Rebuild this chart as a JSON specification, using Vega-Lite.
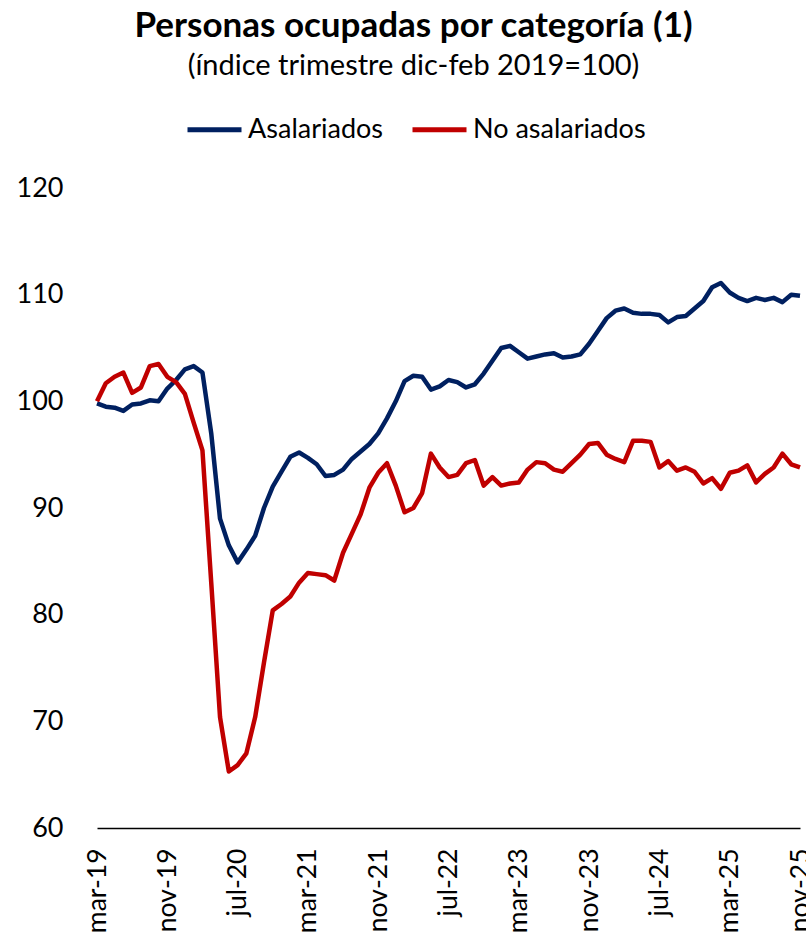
{
  "$schema": "https://vega.github.io/schema/vega-lite/v6.json",
  "width": 703,
  "height": 640,
  "autosize": {"type": "none"},
  "padding": {"left": 97, "top": 188, "right": 6, "bottom": 117},
  "background": "white",
  "title": {
    "text": "Personas ocupadas por categoría (1)",
    "subtitle": "(índice trimestre dic-feb 2019=100)",
    "anchor": "middle",
    "frame": "group",
    "dx": -35,
    "font": "Lato",
    "fontSize": 35,
    "fontWeight": "bold",
    "color": "black",
    "subtitleFont": "Lato",
    "subtitleFontSize": 29,
    "subtitleColor": "black",
    "subtitlePadding": 8,
    "offset": 19
  },
  "config": {
    "view": {"stroke": null},
    "font": "Lato"
  },
  "data": {
    "values": [
      {"mes": "mar-19", "Asalariados": 99.8, "No asalariados": 100.0},
      {"mes": "abr-19", "Asalariados": 99.5, "No asalariados": 101.7},
      {"mes": "may-19", "Asalariados": 99.4, "No asalariados": 102.3},
      {"mes": "jun-19", "Asalariados": 99.1, "No asalariados": 102.7},
      {"mes": "jul-19", "Asalariados": 99.7, "No asalariados": 100.8},
      {"mes": "ago-19", "Asalariados": 99.8, "No asalariados": 101.3},
      {"mes": "sep-19", "Asalariados": 100.1, "No asalariados": 103.3},
      {"mes": "oct-19", "Asalariados": 100.0, "No asalariados": 103.5},
      {"mes": "nov-19", "Asalariados": 101.2, "No asalariados": 102.3},
      {"mes": "dic-19", "Asalariados": 102.0, "No asalariados": 101.8},
      {"mes": "ene-20", "Asalariados": 103.0, "No asalariados": 100.7},
      {"mes": "feb-20", "Asalariados": 103.3, "No asalariados": 98.0},
      {"mes": "mar-20", "Asalariados": 102.7, "No asalariados": 95.4},
      {"mes": "abr-20", "Asalariados": 97.0, "No asalariados": 83.0},
      {"mes": "may-20", "Asalariados": 89.0, "No asalariados": 70.4},
      {"mes": "jun-20", "Asalariados": 86.5, "No asalariados": 65.3},
      {"mes": "jul-20", "Asalariados": 84.9, "No asalariados": 65.9},
      {"mes": "ago-20", "Asalariados": 86.1, "No asalariados": 67.0},
      {"mes": "sep-20", "Asalariados": 87.4, "No asalariados": 70.4},
      {"mes": "oct-20", "Asalariados": 90.0, "No asalariados": 75.5},
      {"mes": "nov-20", "Asalariados": 92.0, "No asalariados": 80.4},
      {"mes": "dic-20", "Asalariados": 93.4, "No asalariados": 81.0},
      {"mes": "ene-21", "Asalariados": 94.8, "No asalariados": 81.7},
      {"mes": "feb-21", "Asalariados": 95.2, "No asalariados": 83.0},
      {"mes": "mar-21", "Asalariados": 94.7, "No asalariados": 83.9},
      {"mes": "abr-21", "Asalariados": 94.1, "No asalariados": 83.8},
      {"mes": "may-21", "Asalariados": 93.0, "No asalariados": 83.7},
      {"mes": "jun-21", "Asalariados": 93.1, "No asalariados": 83.2},
      {"mes": "jul-21", "Asalariados": 93.6, "No asalariados": 85.8},
      {"mes": "ago-21", "Asalariados": 94.6, "No asalariados": 87.6},
      {"mes": "sep-21", "Asalariados": 95.3, "No asalariados": 89.4},
      {"mes": "oct-21", "Asalariados": 96.0, "No asalariados": 91.9},
      {"mes": "nov-21", "Asalariados": 97.0, "No asalariados": 93.3},
      {"mes": "dic-21", "Asalariados": 98.4, "No asalariados": 94.2},
      {"mes": "ene-22", "Asalariados": 100.0, "No asalariados": 92.1},
      {"mes": "feb-22", "Asalariados": 101.9, "No asalariados": 89.6},
      {"mes": "mar-22", "Asalariados": 102.4, "No asalariados": 90.0},
      {"mes": "abr-22", "Asalariados": 102.3, "No asalariados": 91.4},
      {"mes": "may-22", "Asalariados": 101.1, "No asalariados": 95.1},
      {"mes": "jun-22", "Asalariados": 101.4, "No asalariados": 93.8},
      {"mes": "jul-22", "Asalariados": 102.0, "No asalariados": 92.9},
      {"mes": "ago-22", "Asalariados": 101.8, "No asalariados": 93.1},
      {"mes": "sep-22", "Asalariados": 101.3, "No asalariados": 94.2},
      {"mes": "oct-22", "Asalariados": 101.6, "No asalariados": 94.5},
      {"mes": "nov-22", "Asalariados": 102.6, "No asalariados": 92.1},
      {"mes": "dic-22", "Asalariados": 103.8, "No asalariados": 92.9},
      {"mes": "ene-23", "Asalariados": 105.0, "No asalariados": 92.1},
      {"mes": "feb-23", "Asalariados": 105.2, "No asalariados": 92.3},
      {"mes": "mar-23", "Asalariados": 104.6, "No asalariados": 92.4},
      {"mes": "abr-23", "Asalariados": 104.0, "No asalariados": 93.6},
      {"mes": "may-23", "Asalariados": 104.2, "No asalariados": 94.3},
      {"mes": "jun-23", "Asalariados": 104.4, "No asalariados": 94.2},
      {"mes": "jul-23", "Asalariados": 104.5, "No asalariados": 93.6},
      {"mes": "ago-23", "Asalariados": 104.1, "No asalariados": 93.4},
      {"mes": "sep-23", "Asalariados": 104.2, "No asalariados": 94.2},
      {"mes": "oct-23", "Asalariados": 104.4, "No asalariados": 95.0},
      {"mes": "nov-23", "Asalariados": 105.4, "No asalariados": 96.0},
      {"mes": "dic-23", "Asalariados": 106.6, "No asalariados": 96.1},
      {"mes": "ene-24", "Asalariados": 107.8, "No asalariados": 95.0},
      {"mes": "feb-24", "Asalariados": 108.5, "No asalariados": 94.6},
      {"mes": "mar-24", "Asalariados": 108.7, "No asalariados": 94.3},
      {"mes": "abr-24", "Asalariados": 108.3, "No asalariados": 96.3},
      {"mes": "may-24", "Asalariados": 108.2, "No asalariados": 96.3},
      {"mes": "jun-24", "Asalariados": 108.2, "No asalariados": 96.2},
      {"mes": "jul-24", "Asalariados": 108.1, "No asalariados": 93.8},
      {"mes": "ago-24", "Asalariados": 107.4, "No asalariados": 94.4},
      {"mes": "sep-24", "Asalariados": 107.9, "No asalariados": 93.5},
      {"mes": "oct-24", "Asalariados": 108.0, "No asalariados": 93.8},
      {"mes": "nov-24", "Asalariados": 108.7, "No asalariados": 93.4},
      {"mes": "dic-24", "Asalariados": 109.4, "No asalariados": 92.3},
      {"mes": "ene-25", "Asalariados": 110.7, "No asalariados": 92.8},
      {"mes": "feb-25", "Asalariados": 111.1, "No asalariados": 91.8},
      {"mes": "mar-25", "Asalariados": 110.2, "No asalariados": 93.3},
      {"mes": "abr-25", "Asalariados": 109.7, "No asalariados": 93.5},
      {"mes": "may-25", "Asalariados": 109.4, "No asalariados": 94.0},
      {"mes": "jun-25", "Asalariados": 109.7, "No asalariados": 92.4},
      {"mes": "jul-25", "Asalariados": 109.5, "No asalariados": 93.2},
      {"mes": "ago-25", "Asalariados": 109.7, "No asalariados": 93.8},
      {"mes": "sep-25", "Asalariados": 109.3, "No asalariados": 95.1},
      {"mes": "oct-25", "Asalariados": 110.0, "No asalariados": 94.1},
      {"mes": "nov-25", "Asalariados": 109.9, "No asalariados": 93.8}
    ]
  },
  "transform": [
    {"fold": ["Asalariados", "No asalariados"], "as": ["serie", "valor"]}
  ],
  "mark": {"type": "line", "strokeWidth": 4.5, "strokeJoin": "round"},
  "encoding": {
    "x": {
      "field": "mes",
      "type": "ordinal",
      "sort": null,
      "scale": {"type": "point", "padding": 0},
      "axis": {
        "title": null,
        "values": ["mar-19", "nov-19", "jul-20", "mar-21", "nov-21", "jul-22", "mar-23", "nov-23", "jul-24", "mar-25", "nov-25"],
        "labelAngle": -90,
        "labelFontSize": 26.5,
        "labelColor": "black",
        "labelPadding": 20,
        "ticks": false,
        "domainColor": "black",
        "domainWidth": 1.5,
        "grid": false
      }
    },
    "y": {
      "field": "valor",
      "type": "quantitative",
      "scale": {"domain": [60, 120], "nice": false, "zero": false},
      "axis": {
        "title": null,
        "values": [60, 70, 80, 90, 100, 110, 120],
        "labelFontSize": 27,
        "labelColor": "black",
        "labelPadding": 34,
        "ticks": false,
        "domain": false,
        "grid": false
      }
    },
    "color": {
      "field": "serie",
      "type": "nominal",
      "scale": {"domain": ["Asalariados", "No asalariados"], "range": ["#002060", "#C00000"]},
      "legend": {
        "title": null,
        "orient": "none",
        "legendX": 88,
        "legendY": -88,
        "direction": "horizontal",
        "symbolType": "stroke",
        "symbolSize": 2916,
        "symbolStrokeWidth": 5,
        "labelFontSize": 27,
        "labelLimit": 400,
        "labelColor": "black",
        "labelOffset": 4,
        "columnPadding": 18
      }
    }
  }
}
